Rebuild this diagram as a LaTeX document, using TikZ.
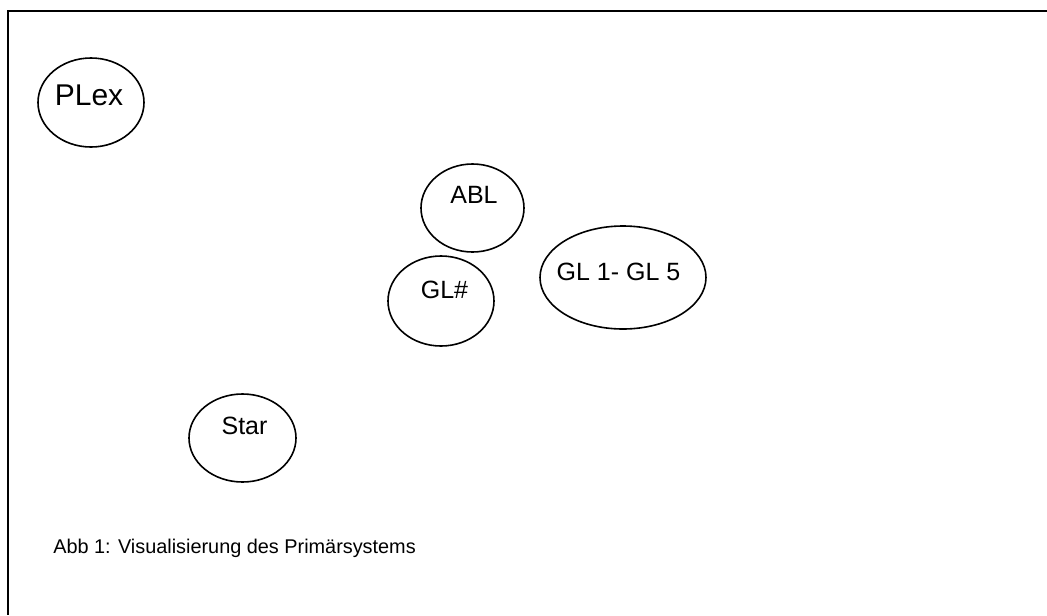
\documentclass[tikz,border=0pt]{standalone}
\usepackage{fontspec}
\setmainfont{Liberation Sans}
\usetikzlibrary{shapes.geometric}

\begin{document}
\begin{tikzpicture}[x=0.75pt,y=0.75pt,yscale=-1,xscale=1,
		bubble/.style={draw, ellipse, line width=1.2pt, inner sep=0pt},
		lbl/.style={anchor=base, inner sep=0pt, font=\fontsize{18.75}{22}\selectfont}]
		\useasboundingbox (0,0) rectangle (1047,615); %page 1047 wide, 615 high

		%Frame (top and left edge only)
		\draw [line width=1.5pt]  (1047,11.3) -- (8.3,11.3) -- (8.3,615) ;

		%Shape: Ellipse
		\node [bubble, minimum width=79.5pt, minimum height=66.75pt] (plex) at (91,102.5) {};
		%Shape: Ellipse
		\node [bubble, minimum width=77.25pt, minimum height=66pt] (abl) at (472.5,208) {};
		%Shape: Ellipse
		\node [bubble, minimum width=79.5pt, minimum height=67.5pt] (glhash) at (441,301) {};
		%Shape: Ellipse
		\node [bubble, minimum width=124.5pt, minimum height=77.25pt] (glrange) at (623,277.5) {};
		%Shape: Ellipse
		\node [bubble, minimum width=80.25pt, minimum height=66pt] (star) at (242.5,438) {};

		% Text Node
		\node [lbl, font=\fontsize{22.5}{26}\selectfont] (plex-txt) at (89,105) {PLex};
		% Text Node
		\node [lbl] (abl-txt) at (474,203) {ABL};
		% Text Node
		\node [lbl] (glhash-txt) at (444.5,298) {GL\#};
		% Text Node
		\node [lbl] (glrange-txt) at (618.5,280) {GL 1- GL 5};
		% Text Node
		\node [lbl] (star-txt) at (244.5,434) {Star};
		% Text Node
		\node [anchor=base west, inner sep=0pt, font=\fontsize{14.9}{18}\selectfont] (caption) at (53,553) {Abb 1: Visualisierung des Primärsystems};
\end{tikzpicture}
\end{document}
